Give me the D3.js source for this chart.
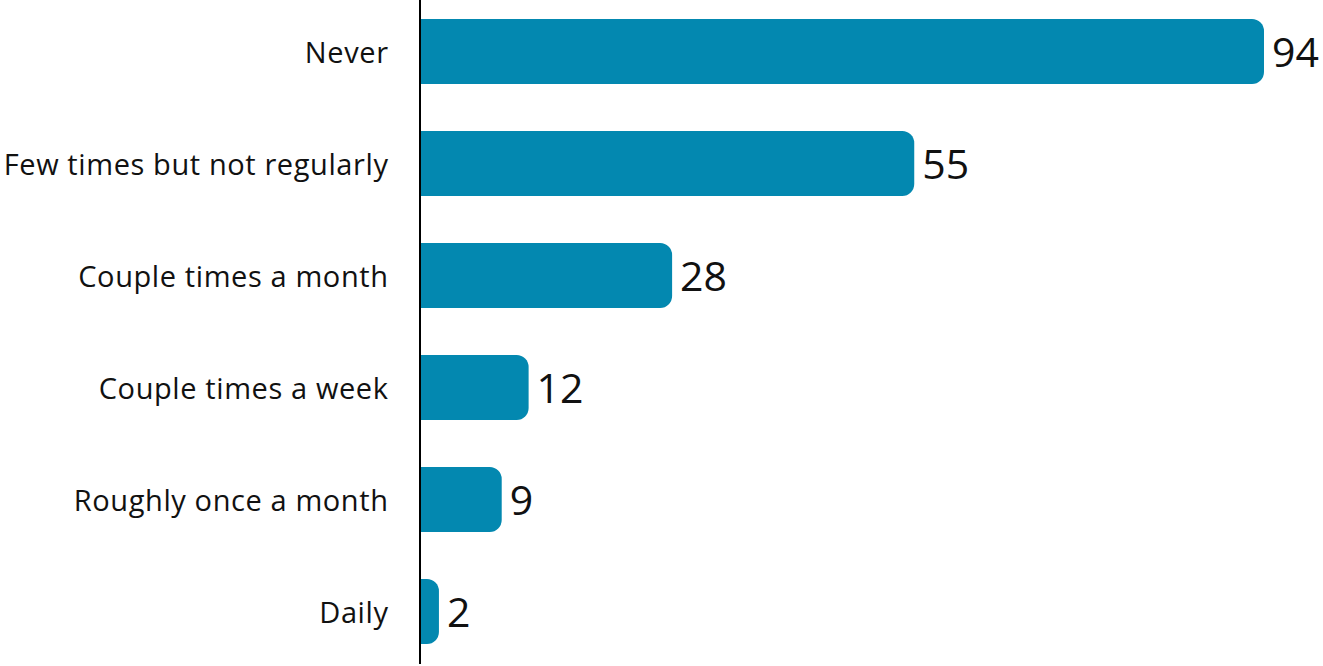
<!DOCTYPE html>
<html><head><meta charset="utf-8">
<script src="https://cdn.jsdelivr.net/npm/d3@7"></script>
<style>body{margin:0;background:#fff}svg{display:block}</style>
</head><body>
<svg id="c" width="1323" height="666"></svg>
<script>
const categories = ["Never","Few times but not regularly","Couple times a month","Couple times a week","Roughly once a month","Daily"];
const values = [94,55,28,12,9,2];

const svg = d3.select("#c");
const x0 = 421;
const x = d3.scaleLinear().domain([0,94]).range([x0,1264]);
const y = d3.scaleBand().domain(categories).range([19,644]).paddingInner(0.42).paddingOuter(0);
const r = 12;
const color = "#0388b0";

function barPath(x1,y1,x2,h){
  const rr = Math.min(r,(x2-x1));
  return `M${x1},${y1}H${x2-rr}A${rr},${rr} 0 0 1 ${x2},${y1+rr}V${y1+h-rr}A${rr},${rr} 0 0 1 ${x2-rr},${y1+h}H${x1}Z`;
}

const data = categories.map((c,i)=>({c, v:values[i]}));
svg.selectAll("path.bar").data(data).join("path").attr("class","bar")
  .attr("d", d=>barPath(x(0), y(d.c), x(d.v), y.bandwidth()))
  .attr("fill", color);

svg.selectAll("text.val").data(data).join("text").attr("class","val")
  .attr("x", d=>x(d.v)+8).attr("y", d=>y(d.c)+y.bandwidth()/2)
  .attr("dy","0.38em")
  .attr("font-family","'Open Sans', sans-serif").attr("font-size",41)
  .attr("fill","#111").text(d=>d.v);

svg.selectAll("text.cat").data(data).join("text").attr("class","cat")
  .attr("x", 388.6).attr("y", d=>y(d.c)+y.bandwidth()/2)
  .attr("dy","0.38em").attr("text-anchor","end")
  .attr("font-family","'Open Sans', sans-serif").attr("font-size",29)
  .attr("letter-spacing","0.6")
  .attr("fill","#111").text(d=>d.c);

svg.append("line").attr("x1",420).attr("x2",420).attr("y1",0).attr("y2",664)
  .attr("stroke","#000").attr("stroke-width",2);
</script>
</body></html>
